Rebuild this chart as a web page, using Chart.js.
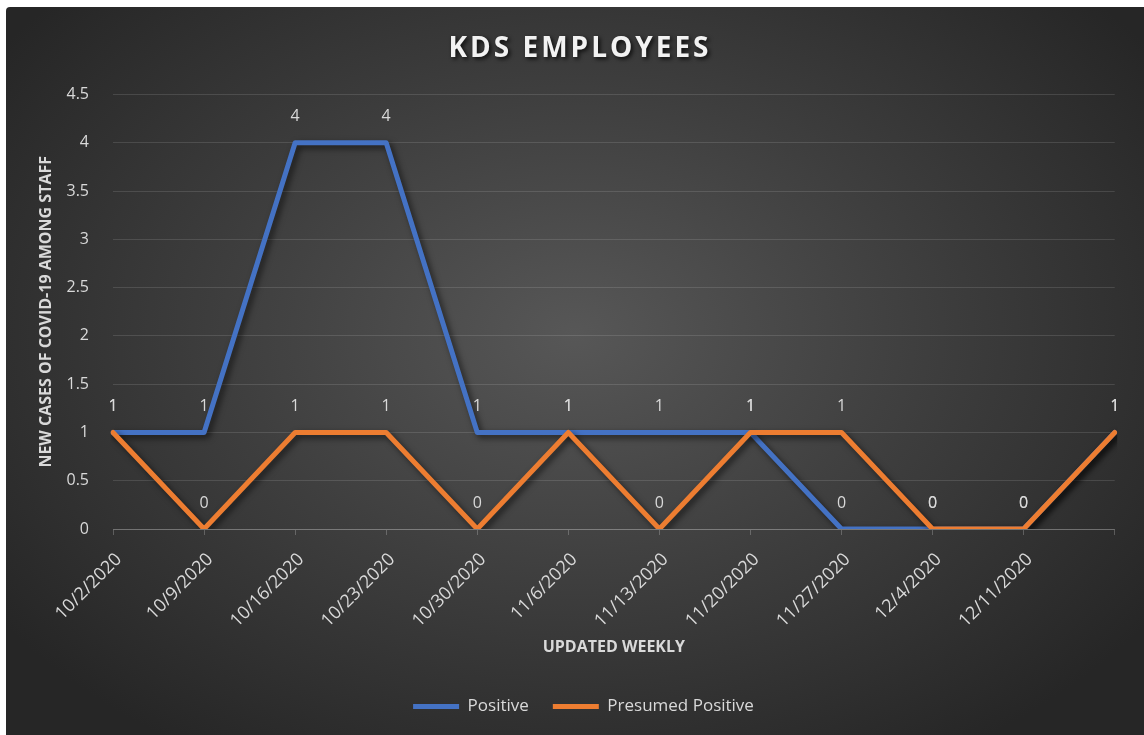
<!DOCTYPE html>
<html>
<head>
<meta charset="utf-8">
<title>KDS Employees</title>
<script src="https://cdn.jsdelivr.net/npm/chart.js@4.4.0/dist/chart.umd.min.js"></script>
<style>
  html, body { margin: 0; padding: 0; background: #fff; }
  #wrap {
    position: absolute; left: 6px; top: 7px; width: 1138px; height: 728px;
    border-top-left-radius: 4px;
    background: radial-gradient(ellipse 62% 68% at 50% 45%, #575757 0%, #3e3e3e 50%, #262626 100%);
  }
</style>
</head>
<body>
<div id="wrap"><canvas id="kdsChart" width="1138" height="728"></canvas></div>
<script>
// ── DATA ───────────────────────────────────────────────────────
const weeks = ['10/2/2020', '10/9/2020', '10/16/2020', '10/23/2020', '10/30/2020', '11/6/2020',
               '11/13/2020', '11/20/2020', '11/27/2020', '12/4/2020', '12/11/2020', ''];
const positive = [1, 1, 4, 4, 1, 1, 1, 1, 0, 0, 0, 1];
const presumedPositive = [1, 0, 1, 1, 0, 1, 0, 1, 1, 0, 0, 1];
const yMin = 0, yMax = 4.5, yStep = 0.5;

const TEXT = '#d9d9d9';
const FONT = '"Open Sans", "Noto Sans", sans-serif';

// ── PLUGINS ────────────────────────────────────────────────────
// drop shadow under each line
const lineShadow = {
  id: 'lineShadow',
  beforeDatasetDraw(chart) {
    const c = chart.ctx;
    c.save();
    c.shadowColor = 'rgba(0,0,0,0.6)';
    c.shadowBlur = 6;
    c.shadowOffsetX = 3;
    c.shadowOffsetY = 3;
  },
  afterDatasetDraw(chart) { chart.ctx.restore(); },
};

// value labels above every point
const pointLabels = {
  id: 'pointLabels',
  afterDatasetsDraw(chart) {
    const c = chart.ctx;
    c.save();
    c.font = '16px ' + FONT;
    c.fillStyle = TEXT;
    c.textAlign = 'center';
    c.textBaseline = 'middle';
    chart.data.datasets.forEach((ds, i) => {
      chart.getDatasetMeta(i).data.forEach((pt, j) => {
        c.fillText(String(ds.data[j]), pt.x, pt.y - 26);
      });
    });
    c.restore();
  },
};

// title + legend are centred on the whole box in the original, not on the
// padded layout area -> nudge them right; title also gets spacing + shadow
function wrapDraw(chart, block, dx, extra) {
  if (!block) return;
  const draw = block.draw.bind(block);
  block.draw = (...args) => {
    const c = chart.ctx;
    c.save();
    c.translate(dx, 0);
    if (extra) extra(c);
    draw(...args);
    c.restore();
  };
}
const boxFx = {
  id: 'boxFx',
  afterInit(chart) {
    wrapDraw(chart, chart.titleBlock, 19.5, c => {
      c.letterSpacing = '3px';
      c.shadowColor = 'rgba(0,0,0,0.8)';
      c.shadowBlur = 4;
      c.shadowOffsetX = 2;
      c.shadowOffsetY = 2;
    });
    wrapDraw(chart, chart.legend, 23);
  },
};

// ── CHART ──────────────────────────────────────────────────────
const ctx = document.getElementById('kdsChart').getContext('2d');
new Chart(ctx, {
  type: 'line',
  data: {
    labels: weeks,
    datasets: [
      {
        label: 'Positive',
        data: positive,
        borderColor: '#4472c4',
        backgroundColor: '#4472c4',
        borderWidth: 5, pointRadius: 0, tension: 0,
        borderCapStyle: 'round', borderJoinStyle: 'round',
        order: 2,
      },
      {
        label: 'Presumed Positive',
        data: presumedPositive,
        borderColor: '#ed7d31',
        backgroundColor: '#ed7d31',
        borderWidth: 5, pointRadius: 0, tension: 0,
        borderCapStyle: 'round', borderJoinStyle: 'round',
        order: 1,
      },
    ],
  },
  options: {
    responsive: false,
    devicePixelRatio: 1,
    animation: false,
    layout: { padding: { left: 0, right: 29, top: 0, bottom: 10 } },
    plugins: {
      tooltip: { enabled: false },
      title: {
        display: true,
        text: 'KDS EMPLOYEES',
        color: '#f2f2f2',
        font: { family: FONT, size: 28, weight: 'bold', lineHeight: 1.2 },
        padding: { top: 25, bottom: 29 },
      },
      legend: {
        position: 'bottom',
        labels: {
          color: TEXT,
          font: { family: FONT, size: 17 },
          usePointStyle: true,
          pointStyle: 'line',
          pointStyleWidth: 46,
          padding: 24,
          sort: (a, b) => a.datasetIndex - b.datasetIndex,
        },
      },
    },
    scales: {
      x: {
        offset: false,
        grid: { drawOnChartArea: false, color: 'rgba(255,255,255,0.22)', tickLength: 6 },
        border: { color: 'rgba(255,255,255,0.22)' },
        ticks: {
          color: TEXT, autoSkip: false, maxRotation: 45, minRotation: 45,
          font: { family: FONT, size: 18 }, padding: 14, labelOffset: 6,
        },
        title: {
          display: true, text: 'UPDATED WEEKLY', color: TEXT,
          font: { family: FONT, size: 16, weight: 'bold', lineHeight: 1.2 },
          padding: { top: 0, bottom: 17 },
        },
        afterFit(scale) { scale.height = 145; },
      },
      y: {
        min: yMin, max: yMax,
        grid: { color: 'rgba(255,255,255,0.12)', drawTicks: false },
        border: { display: false },
        ticks: {
          stepSize: yStep, color: TEXT, padding: 24,
          font: { family: FONT, size: 16 },
          callback: v => String(v),
        },
        title: {
          display: true, text: 'NEW CASES OF COVID-19 AMONG STAFF', color: TEXT,
          font: { family: FONT, size: 16, weight: 'bold', lineHeight: 1.2 },
          padding: { top: 31, bottom: 0 },
        },
        afterFit(scale) { scale.width = 107; },
      },
    },
  },
  plugins: [lineShadow, pointLabels, boxFx],
});
</script>
</body>
</html>
